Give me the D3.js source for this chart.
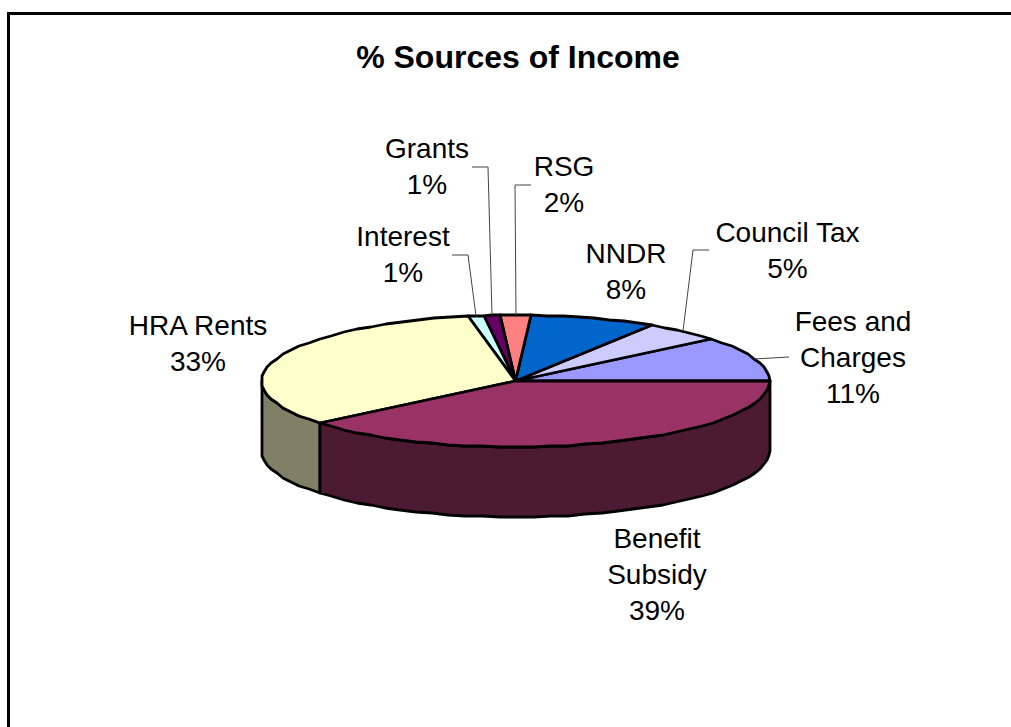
<!DOCTYPE html>
<html>
<head>
<meta charset="utf-8">
<script src="https://cdn.jsdelivr.net/npm/d3@7/dist/d3.min.js"></script>
<style>
  html, body { margin: 0; padding: 0; background: #fff; }
  svg { display: block; }
  text { font-family: "Liberation Sans", Arial, sans-serif; fill: #000; }
</style>
</head>
<body>
<svg id="chart" width="1011" height="727"></svg>
<script>
const categories = ["Fees and Charges", "Council Tax", "NNDR", "RSG", "Grants", "Interest", "HRA Rents", "Benefit Subsidy"];
const percents = [11, 5, 8, 2, 1, 1, 33, 39];
const topColors = ["#9999FF", "#CCCCFF", "#0066CC", "#FF8080", "#660066", "#CCFFFF", "#FFFFCC", "#993366"];
const sideColors = ["#4D4D80", "#666680", "#003366", "#804040", "#330033", "#668080", "#808066", "#4D1A33"];

// Label blocks: wrapped lines, centre x, first baseline y
const labelLines = [["Fees and", "Charges"], ["Council Tax"], ["NNDR"], ["RSG"], ["Grants"], ["Interest"], ["HRA Rents"], ["Benefit", "Subsidy"]];
const labelX = [853, 787.5, 626, 564, 427, 403, 198, 657];
const labelY = [330.5, 242, 263, 176, 158, 246, 335, 548];
// Leader polylines run from the label through an elbow to the slice rim
const leaderStart = [[789, 357], [709, 250], null, [531, 185], [472, 167], [452, 255], null, null];
const leaderElbow = [null, [693, 250], null, [515, 185], [488, 167], [468, 255], null, null];

const lineHeight = 36;
const cx = 515.5, cy = 381, rx = 254, ry = 66, depth = 70;

const svg = d3.select("#chart");

// Chart area border, running off the right and bottom of the page
svg.append("path")
  .attr("d", d3.line()([[8.5, 740], [8.5, 13.5], [1020, 13.5]]))
  .attr("fill", "none").attr("stroke", "#000").attr("stroke-width", 3);

svg.append("text")
  .attr("x", 518).attr("y", 68)
  .attr("text-anchor", "middle")
  .attr("font-size", 32).attr("font-weight", "bold")
  .text("% Sources of Income");

// Slices run anticlockwise from due east
const slices = d3.pie().sort(null)
  .startAngle(Math.PI / 2).endAngle(-1.5 * Math.PI)(percents);

const xScale = d3.scaleLinear().domain([-1, 1]).range([cx - rx, cx + rx]);
const yScale = d3.scaleLinear().domain([-1, 1]).range([cy - ry, cy + ry]);
const rim = (a, drop = 0) => [
  Math.round(xScale(Math.sin(a))),
  Math.round(yScale(-Math.cos(a))) + drop
];
const arcPoints = (a0, a1, drop = 0) => {
  const n = Math.max(2, Math.ceil(Math.abs(a1 - a0) / (4 * Math.PI / 180)));
  return d3.range(n + 1).map(i => rim(a0 + (a1 - a0) * i / n, drop));
};
const line = d3.line();

// Outer wall: only the part of each slice below the east-west axis shows
slices.forEach((s, i) => {
  const a0 = Math.min(s.startAngle, -Math.PI / 2);
  const a1 = Math.max(s.endAngle, -3 * Math.PI / 2);
  if (a0 <= a1) return;
  const top = arcPoints(a0, a1);
  const bottom = arcPoints(a1, a0, depth);
  svg.append("path")
    .attr("d", line(top.concat(bottom)) + "Z")
    .attr("fill", sideColors[i])
    .attr("stroke", "#000").attr("stroke-width", 2.8).attr("stroke-linejoin", "round");
});

// Top face
slices.forEach((s, i) => {
  svg.append("path")
    .attr("d", line([[xScale(0), yScale(0)]].concat(arcPoints(s.startAngle, s.endAngle))) + "Z")
    .attr("fill", topColors[i])
    .attr("stroke", "#000").attr("stroke-width", 2.8).attr("stroke-linejoin", "round");
});

// Leader lines
slices.forEach((s, i) => {
  if (!leaderStart[i]) return;
  const mid = (s.startAngle + s.endAngle) / 2;
  const pts = [leaderStart[i]];
  if (leaderElbow[i]) pts.push(leaderElbow[i]);
  pts.push(rim(mid));
  svg.append("path")
    .attr("d", line(pts))
    .attr("fill", "none").attr("stroke", "#444").attr("stroke-width", 1);
});

// Category name and percentage labels
categories.forEach((c, i) => {
  const t = svg.append("text")
    .attr("text-anchor", "middle")
    .attr("font-size", 28);
  labelLines[i].concat(percents[i] + "%").forEach((txt, j) => {
    t.append("tspan")
      .attr("x", labelX[i])
      .attr("y", labelY[i] + j * lineHeight)
      .text(txt);
  });
});
</script>
</body>
</html>
